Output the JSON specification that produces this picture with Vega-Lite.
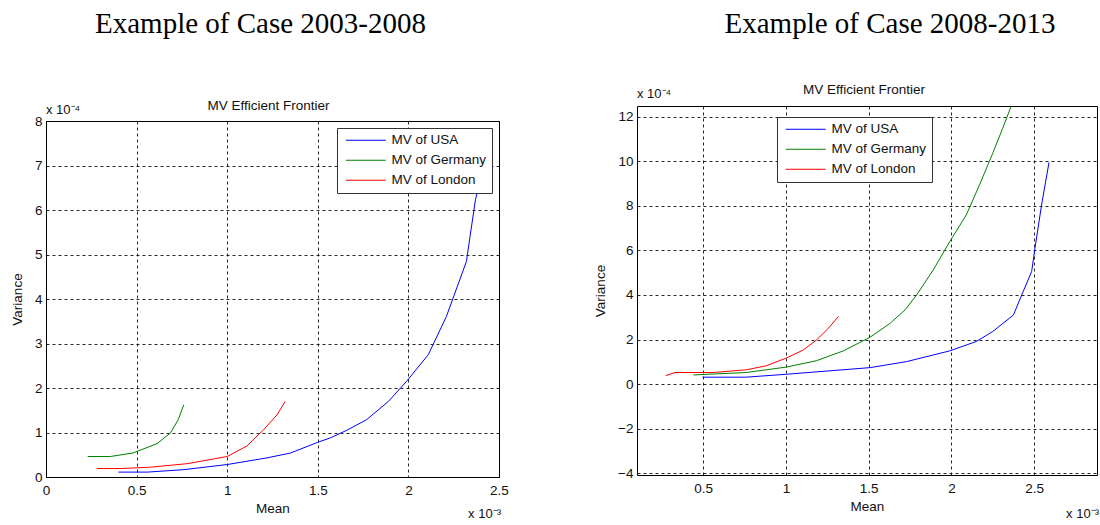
{
  "$schema": "https://vega.github.io/schema/vega-lite/v6.json",
  "background": "white",
  "padding": {"left": 9, "top": 10, "right": 0, "bottom": 0},
  "spacing": 84,
  "datasets": {
    "p1": [
      {"series": " MV of USA", "mean": 0.40, "variance": 0.11},
      {"series": " MV of USA", "mean": 0.56, "variance": 0.11},
      {"series": " MV of USA", "mean": 0.76, "variance": 0.165},
      {"series": " MV of USA", "mean": 1.00, "variance": 0.28},
      {"series": " MV of USA", "mean": 1.22, "variance": 0.43},
      {"series": " MV of USA", "mean": 1.35, "variance": 0.54},
      {"series": " MV of USA", "mean": 1.50, "variance": 0.78},
      {"series": " MV of USA", "mean": 1.57, "variance": 0.88},
      {"series": " MV of USA", "mean": 1.66, "variance": 1.05},
      {"series": " MV of USA", "mean": 1.77, "variance": 1.29},
      {"series": " MV of USA", "mean": 1.89, "variance": 1.70},
      {"series": " MV of USA", "mean": 1.99, "variance": 2.15},
      {"series": " MV of USA", "mean": 2.11, "variance": 2.75},
      {"series": " MV of USA", "mean": 2.21, "variance": 3.61},
      {"series": " MV of USA", "mean": 2.32, "variance": 4.84},
      {"series": " MV of USA", "mean": 2.34, "variance": 5.40},
      {"series": " MV of USA", "mean": 2.37, "variance": 6.23},
      {"series": " MV of USA", "mean": 2.40, "variance": 6.75},
      {"series": " MV of USA", "mean": 2.43, "variance": 7.60},
      {"series": "MV of Germany", "mean": 0.23, "variance": 0.46},
      {"series": "MV of Germany", "mean": 0.355, "variance": 0.46},
      {"series": "MV of Germany", "mean": 0.48, "variance": 0.54},
      {"series": "MV of Germany", "mean": 0.613, "variance": 0.75},
      {"series": "MV of Germany", "mean": 0.687, "variance": 0.99},
      {"series": "MV of Germany", "mean": 0.73, "variance": 1.29},
      {"series": "MV of Germany", "mean": 0.76, "variance": 1.62},
      {"series": "MV of London", "mean": 0.28, "variance": 0.19},
      {"series": "MV of London", "mean": 0.41, "variance": 0.19},
      {"series": "MV of London", "mean": 0.576, "variance": 0.22},
      {"series": "MV of London", "mean": 0.78, "variance": 0.30},
      {"series": "MV of London", "mean": 1.00, "variance": 0.46},
      {"series": "MV of London", "mean": 1.11, "variance": 0.70},
      {"series": "MV of London", "mean": 1.20, "variance": 1.06},
      {"series": "MV of London", "mean": 1.276, "variance": 1.40},
      {"series": "MV of London", "mean": 1.32, "variance": 1.70}
    ],
    "p2": [
      {"series": " MV of USA", "mean": 0.496, "variance": 0.31},
      {"series": " MV of USA", "mean": 0.76, "variance": 0.31},
      {"series": " MV of USA", "mean": 1.00, "variance": 0.44},
      {"series": " MV of USA", "mean": 1.29, "variance": 0.61},
      {"series": " MV of USA", "mean": 1.51, "variance": 0.74},
      {"series": " MV of USA", "mean": 1.73, "variance": 1.01},
      {"series": " MV of USA", "mean": 1.99, "variance": 1.49},
      {"series": " MV of USA", "mean": 2.15, "variance": 1.91},
      {"series": " MV of USA", "mean": 2.25, "variance": 2.36},
      {"series": " MV of USA", "mean": 2.375, "variance": 3.10},
      {"series": " MV of USA", "mean": 2.425, "variance": 4.00},
      {"series": " MV of USA", "mean": 2.485, "variance": 5.05},
      {"series": " MV of USA", "mean": 2.505, "variance": 6.09},
      {"series": " MV of USA", "mean": 2.545, "variance": 8.04},
      {"series": " MV of USA", "mean": 2.59, "variance": 9.95},
      {"series": "MV of Germany", "mean": 0.44, "variance": 0.41},
      {"series": "MV of Germany", "mean": 0.76, "variance": 0.52},
      {"series": "MV of Germany", "mean": 1.00, "variance": 0.76},
      {"series": "MV of Germany", "mean": 1.185, "variance": 1.05},
      {"series": "MV of Germany", "mean": 1.347, "variance": 1.49},
      {"series": "MV of Germany", "mean": 1.508, "variance": 2.10},
      {"series": "MV of Germany", "mean": 1.63, "variance": 2.73},
      {"series": "MV of Germany", "mean": 1.72, "variance": 3.33},
      {"series": "MV of Germany", "mean": 1.79, "variance": 4.00},
      {"series": "MV of Germany", "mean": 1.89, "variance": 5.12},
      {"series": "MV of Germany", "mean": 1.99, "variance": 6.39},
      {"series": "MV of Germany", "mean": 2.09, "variance": 7.59},
      {"series": "MV of Germany", "mean": 2.17, "variance": 8.94},
      {"series": "MV of Germany", "mean": 2.25, "variance": 10.36},
      {"series": "MV of Germany", "mean": 2.31, "variance": 11.48},
      {"series": "MV of Germany", "mean": 2.36, "variance": 12.45},
      {"series": "MV of London", "mean": 0.274, "variance": 0.38},
      {"series": "MV of London", "mean": 0.33, "variance": 0.52},
      {"series": "MV of London", "mean": 0.56, "variance": 0.52},
      {"series": "MV of London", "mean": 0.76, "variance": 0.64},
      {"series": "MV of London", "mean": 0.88, "variance": 0.82},
      {"series": "MV of London", "mean": 1.00, "variance": 1.16},
      {"series": "MV of London", "mean": 1.105, "variance": 1.53},
      {"series": "MV of London", "mean": 1.185, "variance": 1.98},
      {"series": "MV of London", "mean": 1.256, "variance": 2.50},
      {"series": "MV of London", "mean": 1.317, "variance": 3.03}
    ]
  },
  "config": {
    "font": "Liberation Sans",
    "view": {"stroke": "#000", "strokeWidth": 1},
    "title": {"font": "Liberation Sans", "fontSize": 13.5, "fontWeight": "normal", "color": "#111", "anchor": "middle", "offset": -8},
    "axis": {"grid": true, "gridColor": "#000", "gridDash": [3, 3], "gridOpacity": 0.85, "gridWidth": 1,
             "ticks": false, "domain": false, "labelFont": "Liberation Sans", "labelFontSize": 13.5, "labelColor": "#111",
             "titleFont": "Liberation Sans", "titleFontSize": 13.5, "titleFontWeight": "normal", "titleColor": "#111", "labelFlush": false},
    "axisX": {"labelPadding": 6, "titlePadding": 5},
    "axisY": {"labelPadding": 4, "titlePadding": 10},
    "legend": {"orient": "none", "fillColor": "#fff", "strokeColor": "#333", "padding": 5.5, "rowPadding": 5,
               "labelFont": "Liberation Sans", "labelFontSize": 13.5, "labelColor": "#111",
               "symbolType": "M-4,0H4", "symbolSize": 100, "symbolStrokeWidth": 1, "symbolOffset": 16.5, "labelOffset": 19,
               "title": null, "zindex": 1}
  },
  "resolve": {"legend": {"color": "independent"}},
  "hconcat": [
    {"spacing": 58, "resolve": {"legend": {"color": "independent"}}, "vconcat": [
    {
      "width": 453, "height": 1, "view": {"stroke": null},
      "title": {"text": "Example of Case 2003-2008", "font": "Liberation Serif", "fontSize": 29, "color": "#000", "offset": 0, "dx": -12},
      "data": {"values": []},
      "mark": {"type": "point"},
      "encoding": {}
    },
    {
      "width": 453, "height": 356,
      "title": {"text": "MV Efficient Frontier", "dx": -4},
      "layer": [
        {
          "data": {"name": "p1"},
          "mark": {"type": "line", "strokeWidth": 1, "clip": true},
          "encoding": {
            "x": {"field": "mean", "type": "quantitative", "scale": {"domain": [0, 2.5], "nice": false, "zero": false},
                  "axis": {"title": "Mean", "values": [0, 0.5, 1, 1.5, 2, 2.5], "format": "~g"}},
            "y": {"field": "variance", "type": "quantitative", "scale": {"domain": [0, 8], "nice": false, "zero": false},
                  "axis": {"title": "Variance", "values": [0, 1, 2, 3, 4, 5, 6, 7, 8], "format": "~g"}},
            "color": {"field": "series", "type": "nominal", "sort": null,
                      "scale": {"domain": [" MV of USA", "MV of Germany", "MV of London"], "range": ["#0000ff", "#008000", "#ff0000"]},
                      "legend": {"legendX": 291, "legendY": 7}}
          }
        },
        {
          "data": {"values": [{}]},
          "mark": {"type": "text", "align": "left", "baseline": "alphabetic", "dy": -7, "fontSize": 13, "color": "#111"},
          "encoding": {"x": {"datum": 0}, "y": {"datum": 8}, "text": {"value": "x 10⁻⁴"}}
        },
        {
          "data": {"values": [{}]},
          "mark": {"type": "text", "align": "right", "baseline": "alphabetic", "dy": 41, "dx": 2, "fontSize": 13, "color": "#111"},
          "encoding": {"x": {"datum": 2.5}, "y": {"datum": 0}, "text": {"value": "x 10⁻³"}}
        }
      ]
    }]},
    {"spacing": 42, "resolve": {"legend": {"color": "independent"}}, "vconcat": [
    {
      "width": 460, "height": 1, "view": {"stroke": null},
      "title": {"text": "Example of Case 2008-2013", "font": "Liberation Serif", "fontSize": 29, "color": "#000", "offset": 0, "dx": 23},
      "data": {"values": []},
      "mark": {"type": "point"},
      "encoding": {}
    },
    {
      "width": 460, "height": 369,
      "title": {"text": "MV Efficient Frontier", "dx": -3},
      "layer": [
        {
          "data": {"name": "p2"},
          "mark": {"type": "line", "strokeWidth": 1, "clip": true},
          "encoding": {
            "x": {"field": "mean", "type": "quantitative", "scale": {"domain": [0.1, 2.88], "nice": false, "zero": false},
                  "axis": {"title": "Mean", "values": [0.5, 1, 1.5, 2, 2.5], "format": "~g"}},
            "y": {"field": "variance", "type": "quantitative", "scale": {"domain": [-4.08, 12.48], "nice": false, "zero": false},
                  "axis": {"title": "Variance", "values": [-4, -2, 0, 2, 4, 6, 8, 10, 12], "format": "~g"}},
            "color": {"field": "series", "type": "nominal", "sort": null,
                      "scale": {"domain": [" MV of USA", "MV of Germany", "MV of London"], "range": ["#0000ff", "#008000", "#ff0000"]},
                      "legend": {"legendX": 140, "legendY": 11}}
          }
        },
        {
          "data": {"values": [{}]},
          "mark": {"type": "text", "align": "left", "baseline": "alphabetic", "dy": -8, "fontSize": 13, "color": "#111"},
          "encoding": {"x": {"datum": 0.1}, "y": {"datum": 12.48}, "text": {"value": "x 10⁻⁴"}}
        },
        {
          "data": {"values": [{}]},
          "mark": {"type": "text", "align": "right", "baseline": "alphabetic", "dy": 43, "dx": 2, "fontSize": 13, "color": "#111"},
          "encoding": {"x": {"datum": 2.88}, "y": {"datum": -4.08}, "text": {"value": "x 10⁻³"}}
        }
      ]
    }]}
  ]
}
